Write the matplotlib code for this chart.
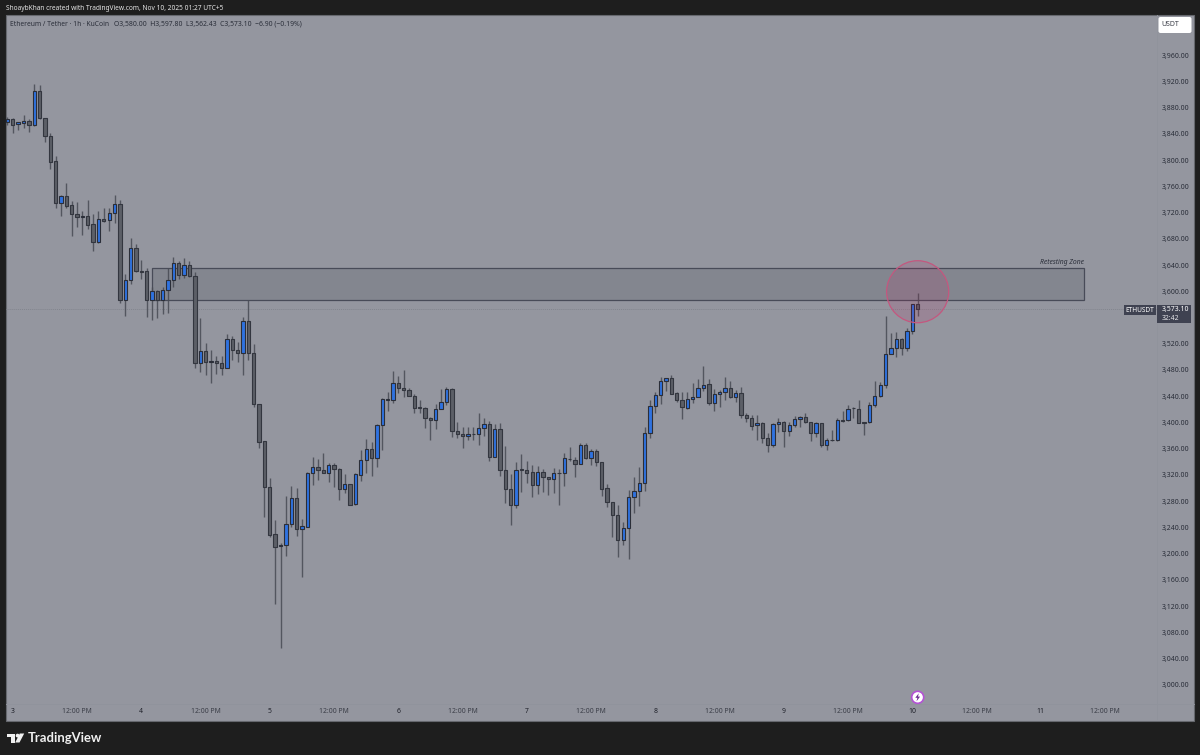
import numpy as np
import matplotlib
matplotlib.use("Agg")
import matplotlib.pyplot as plt
from matplotlib.patches import Rectangle, Ellipse, Circle, FancyBboxPatch, Polygon

plt.rcParams["font.family"] = ["Noto Sans", "DejaVu Sans"]

# ETHUSDT 1h candles, prices (first candle is the hour before Nov 3 00:00)
opens = [
    3858, 3862.4, 3854.3, 3856.9, 3860, 3852.8, 3905.6, 3863.5, 3836, 3797.9,
    3735, 3745.6, 3730.9, 3717.2, 3713.1, 3715.1, 3702, 3674.5, 3710.6, 3708,
    3718.7, 3733, 3587.2, 3617.6, 3665.4, 3630.8, 3630.3, 3586.1, 3600.4, 3587.2,
    3601.9, 3617.1, 3643, 3624.7, 3640, 3623.7, 3491.2, 3509.5, 3492.2, 3493.2,
    3490.2, 3483.6, 3527.8, 3510, 3505.9, 3554.2, 3505.9, 3427.7, 3371.4, 3302.3,
    3229.6, 3211.4, 3213.4, 3245.9, 3284.5, 3238.3, 3241.3, 3323.1, 3332.8, 3327.2,
    3323.6, 3335.3, 3329.2, 3299.2, 3305.8, 3275.9, 3320.6, 3343.4, 3359.2, 3346.4,
    3396.2, 3434.9, 3434.3, 3460.2, 3453.1, 3450.1, 3440.9, 3423.2, 3422.6, 3406.4,
    3403.9, 3420.1, 3431.3, 3451.6, 3386.6, 3383, 3379, 3383, 3382, 3392.2,
    3397.3, 3348, 3389.6, 3327.2, 3299.2, 3274.8, 3328.7, 3327.2, 3324.1, 3304.8,
    3324.1, 3317, 3313.4, 3323.6, 3323.1, 3344.9, 3343.4, 3337.3, 3365.2, 3345.4,
    3356.1, 3339.8, 3299.7, 3278.4, 3258.6, 3220.5, 3239.3, 3287, 3295.7, 3307.3,
    3384.5, 3424.7, 3441.9, 3463.8, 3467.3, 3444.5, 3433.8, 3422.6, 3435.3, 3439.4,
    3452.6, 3458.2, 3429.8, 3443.5, 3446.5, 3452.6, 3438.4, 3444.5, 3411.5, 3407.4,
    3395.7, 3398.8, 3375.9, 3366.3, 3397.3, 3400.8, 3387.6, 3396.8, 3404.9, 3408,
    3400.3, 3383.6, 3399.3, 3366.3, 3373.9, 3372.9, 3403.9, 3403.4, 3422.2, 3420.1,
    3400.3, 3400.3, 3426.2, 3440.4, 3456.7, 3504.9, 3514.1, 3526.8, 3513.1, 3540,
    3580,
]
closes = [
    3862, 3854, 3857.4, 3859.9, 3852.8, 3905.6, 3863.5, 3836, 3797.4, 3735,
    3745.6, 3730.4, 3717.2, 3712.6, 3714.6, 3701.4, 3674.5, 3710, 3707.5, 3718.7,
    3733, 3587.2, 3617.6, 3665.4, 3630.3, 3629.8, 3586.1, 3599.9, 3587.2, 3601.9,
    3617.1, 3643, 3624.7, 3640, 3623.7, 3491.2, 3509.5, 3492.2, 3493.2, 3490.2,
    3483.6, 3527.8, 3510, 3505.9, 3554.2, 3505.9, 3427.7, 3370.8, 3302.3, 3228.6,
    3210.9, 3212.9, 3245.4, 3284.5, 3238.3, 3241.8, 3323.6, 3332.8, 3327.2, 3323.6,
    3335.3, 3329.2, 3299.2, 3306.3, 3274.8, 3321.1, 3343.4, 3359.2, 3346.4, 3396.7,
    3436.4, 3435.9, 3460.2, 3453.1, 3450.1, 3440.9, 3422.6, 3422.2, 3406.4, 3403.4,
    3420.1, 3430.8, 3451.6, 3386.6, 3383, 3379, 3383, 3382, 3392.2, 3397.3,
    3348, 3389.6, 3327.2, 3299.2, 3274.8, 3328.2, 3328.2, 3323.6, 3304.8, 3324.1,
    3317.5, 3313.4, 3323.1, 3322.6, 3345.4, 3343.9, 3337.3, 3365.2, 3345.9, 3356.1,
    3340.4, 3299.2, 3278.4, 3258.6, 3220.5, 3239.3, 3286.5, 3295.7, 3307.3, 3384.5,
    3425.2, 3441.9, 3463.8, 3467.3, 3444, 3433.8, 3423.1, 3435.3, 3439.4, 3452.6,
    3457.7, 3429.8, 3444, 3446.5, 3452.6, 3438.4, 3444.5, 3411.5, 3407.4, 3395.2,
    3398.8, 3375.9, 3366.3, 3397.8, 3401.3, 3387.6, 3396.8, 3404.9, 3408, 3400.3,
    3383.6, 3399.3, 3365.8, 3373.9, 3372.9, 3403.4, 3402.9, 3421.1, 3421.6, 3399.8,
    3399.8, 3426.2, 3440.4, 3456.7, 3504.9, 3513.6, 3526.8, 3514.1, 3540, 3580,
    3573.1,
]
highs = [
    3866, 3864.5, 3858.4, 3868.5, 3862, 3915.8, 3914.2, 3864, 3841.6, 3806,
    3746.6, 3764.4, 3738, 3736, 3722.3, 3739, 3717.7, 3722.3, 3727.3, 3727.3,
    3747.1, 3739, 3626.3, 3680.6, 3672, 3647.6, 3636, 3607, 3601.9, 3606,
    3634.9, 3652.7, 3646, 3650.1, 3646.6, 3629.8, 3558.8, 3520.7, 3510.5, 3501.4,
    3501.4, 3534.4, 3531.8, 3522.2, 3561.3, 3586.7, 3519.7, 3428, 3371.8, 3315.5,
    3251.5, 3217, 3288, 3303.3, 3299.7, 3253.5, 3324, 3348, 3344.4, 3353,
    3337.8, 3338.8, 3330.2, 3321.6, 3306.3, 3322.6, 3358.1, 3374.4, 3370.3, 3397.2,
    3437.9, 3446, 3478.5, 3470.9, 3480, 3452.1, 3443, 3434.3, 3423.2, 3407.9,
    3428.2, 3450.6, 3454.6, 3452.1, 3401.3, 3393.7, 3392.7, 3393.7, 3414, 3406.4,
    3402.8, 3397.8, 3398.8, 3364.2, 3321, 3339.9, 3351.5, 3341.9, 3334.8, 3333.8,
    3328.7, 3317.5, 3330.7, 3329.7, 3354.1, 3363.2, 3347, 3368.3, 3368.3, 3359.2,
    3359.2, 3340.4, 3305.8, 3278.9, 3274.3, 3247.9, 3297.2, 3316.5, 3332.7, 3393.7,
    3434.3, 3447, 3469.9, 3468.3, 3471.9, 3447, 3446.5, 3446, 3459.7, 3465.8,
    3486.2, 3465.8, 3450.6, 3449.6, 3469.9, 3463.8, 3449.6, 3454.7, 3414, 3411,
    3411.5, 3400.3, 3383.6, 3398.8, 3406.4, 3402.3, 3401.3, 3410, 3410, 3414,
    3401.3, 3401.3, 3399.8, 3376.4, 3388.1, 3406.4, 3417.6, 3426.2, 3424.2, 3433.8,
    3400.3, 3430.8, 3462.8, 3461.8, 3562.3, 3535.9, 3537.4, 3528.3, 3543.6, 3580,
    3597.8,
]
lows = [
    3853, 3841.6, 3845.7, 3848.7, 3843.1, 3851.8, 3862.5, 3828, 3786.2, 3726.3,
    3714.6, 3727.3, 3684.2, 3697.4, 3686.2, 3694.8, 3661.8, 3673, 3706, 3692.3,
    3704.5, 3581.6, 3562.8, 3610.5, 3630, 3618.6, 3560.8, 3556.2, 3559.2, 3564.8,
    3567.3, 3606, 3618.6, 3620.2, 3621.2, 3483.6, 3477.5, 3472.4, 3459.7, 3473.9,
    3472.4, 3483, 3495.3, 3492.2, 3472.4, 3495.3, 3424.2, 3360.7, 3255.6, 3225.1,
    3123, 3055.9, 3197.1, 3241.3, 3227.6, 3165.1, 3241, 3304.3, 3312.4, 3323,
    3309.9, 3302.3, 3282, 3293.1, 3273.8, 3274.8, 3311.4, 3323.6, 3318.5, 3332.8,
    3358.1, 3417.6, 3429.2, 3444.5, 3439.4, 3440.4, 3415, 3415, 3391.7, 3373.4,
    3390.6, 3420, 3426.7, 3378.5, 3376.4, 3361.7, 3373.4, 3373.4, 3366.3, 3379.5,
    3341.4, 3347, 3318.5, 3276.9, 3244.4, 3269.8, 3294.1, 3308.4, 3287, 3291.1,
    3294.1, 3289.6, 3293.1, 3274.3, 3303.8, 3341.9, 3317.5, 3336.8, 3344.9, 3335.3,
    3333.8, 3288.5, 3271.8, 3225.1, 3195.6, 3212.9, 3192.5, 3261.6, 3273.3, 3296.2,
    3376.4, 3414, 3428.2, 3448.5, 3443, 3431.8, 3404.9, 3421.1, 3430.3, 3439,
    3448.6, 3426.7, 3417.1, 3423.2, 3434.3, 3436.9, 3431.3, 3406.4, 3401.3, 3388.6,
    3372.9, 3369.3, 3355.1, 3362.2, 3385.1, 3362.2, 3379.5, 3393.7, 3393.7, 3399.8,
    3371.4, 3378.5, 3363.2, 3358.2, 3372.4, 3372.4, 3400.8, 3402.9, 3407.4, 3399.3,
    3381, 3399.8, 3424.2, 3439.4, 3453.1, 3503.9, 3500.4, 3503.4, 3509.5, 3534.9,
    3562.43,
]

# 3,560 sits under the last price label, so the scale does not show it
price_ticks = [p for p in range(3000, 4000, 40) if p != 3560]
time_ticks = [0, 12, 24, 36, 48, 60, 72, 84, 96, 108, 120, 132, 144, 156, 168, 180, 192, 204]
time_labels = ["3", "12:00 PM", "4", "12:00 PM", "5", "12:00 PM", "6", "12:00 PM", "7", "12:00 PM",
               "8", "12:00 PM", "9", "12:00 PM", "10", "12:00 PM", "11", "12:00 PM"]

zone_low, zone_high = 3586.2, 3635.0
zone_start, zone_end = 26, 200
last_price = 3573.10

BG = "#1e1e1e"
PANEL = "#94969f"
TEXT = "#2a2e39"
LABEL_BG = "#3f4251"

W, H = 1200, 755
fig = plt.figure(figsize=(W / 100, H / 100), dpi=100, facecolor=BG)

# pixel-space layer under the chart: panel and axis separators
back = fig.add_axes([0, 0, 1, 1], zorder=0)
back.set_xlim(0, W)
back.set_ylim(H, 0)
back.axis("off")
back.add_patch(Rectangle((6, 15), 1188, 705.5, fc=PANEL, ec="#66686e", lw=0.8))
back.plot([1157, 1157], [15, 720], color="#90939c", lw=0.7)
back.plot([6, 1194], [704, 704], color="#90939c", lw=0.7)

# main chart axes, right edge at the price scale and bottom at the time scale
ax = fig.add_axes([6 / W, 1 - 704 / H, 1151 / W, 689 / H], zorder=1)
ax.patch.set_visible(False)
ax.set_xlim(-1.27, 213.7)
ax.set_ylim(2971.0, 4021.0)
for s in ax.spines.values():
    s.set_visible(False)

hours = np.arange(-1, 170)
o = np.array(opens)
c = np.array(closes)
up = c >= o
bottoms = np.minimum(o, c)
heights = np.abs(c - o)

ax.vlines(hours, lows, highs, color="#484b54", lw=1.0, alpha=0.85, zorder=3)
ax.bar(hours[up], heights[up], bottom=bottoms[up], width=0.62, color="#2f72e0",
       edgecolor="#2b2e38", linewidth=0.8, zorder=4)
ax.bar(hours[~up], heights[~up], bottom=bottoms[~up], width=0.62, color="#5c5f67",
       edgecolor="#33363f", linewidth=0.8, zorder=4)

# retesting zone and last price line
ax.add_patch(Rectangle((zone_start, zone_low), zone_end - zone_start, zone_high - zone_low,
                       fc="#434651", alpha=0.2, ec="none", zorder=2))
ax.add_patch(Rectangle((zone_start, zone_low), zone_end - zone_start, zone_high - zone_low,
                       fc="none", ec="#484b58", lw=0.9, zorder=2))
ax.text(zone_end, zone_high + 3, "Retesting Zone", ha="right", va="bottom",
        fontsize=4.9, style="italic", color=TEXT)
ax.axhline(last_price, color="#82858e", lw=0.7, ls=(0, (1, 1)), zorder=1)

# marker circle around the last candle
ax.add_patch(Ellipse((169, 3599.3), 11.6, 94.5, fc="#c2185b", alpha=0.13, ec="none", zorder=5))
ax.add_patch(Ellipse((169, 3599.3), 11.6, 94.5, fc="none", ec="#c4577f", lw=0.9, zorder=5))

ax.yaxis.tick_right()
ax.set_yticks(price_ticks)
ax.set_yticklabels([f"{p:,.2f}" for p in price_ticks], fontsize=5.0, color=TEXT)
ax.set_xticks(time_ticks)
ax.set_xticklabels(time_labels, fontsize=4.9, color="#3a3d47")
ax.tick_params(axis="both", length=0)
ax.tick_params(axis="y", pad=3.6)
ax.tick_params(axis="x", pad=2.6)
for lab, txt in zip(ax.get_xticklabels(), time_labels):
    if len(txt) <= 2:
        lab.set_color("#1e2029")
    if txt == "10":
        lab.set_fontweight("bold")

# pixel-space layer on top: header, last price labels, icon and logo
top = fig.add_axes([0, 0, 1, 1], zorder=2)
top.patch.set_visible(False)
top.set_xlim(0, W)
top.set_ylim(H, 0)
top.axis("off")

top.text(6, 8, "ShoaybKhan created with TradingView.com, Nov 10, 2025 01:27 UTC+5",
         fontsize=4.75, color="#e6e6e6", va="center", fontweight="medium")
top.text(10, 24, "Ethereum / Tether · 1h · KuCoin", fontsize=4.85, color=TEXT, va="center")
top.text(114, 24, "O3,580.00  H3,597.80  L3,562.43  C3,573.10  −6.90 (−0.19%)",
         fontsize=4.9, color=TEXT, va="center")

top.add_patch(FancyBboxPatch((1159.5, 18), 31, 14, boxstyle="round,pad=1,rounding_size=2",
                             fc="white", ec="none"))
top.text(1170, 25, "USDT", fontsize=5, color="#3a3d47", ha="center", va="center")

top.add_patch(Rectangle((1123.5, 305), 32.5, 10, fc=LABEL_BG, ec="none"))
top.text(1139.7, 310, "ETHUSDT", fontsize=4.7, color="white", ha="center", va="center",
         fontweight="bold")
top.add_patch(Rectangle((1157, 305), 34, 18, fc=LABEL_BG, ec="none"))
top.text(1162, 309.5, "3,573.10", fontsize=5, color="white", va="center", fontweight="bold")
top.text(1162, 318.5, "32:42", fontsize=4.9, color="#e4e4e8", va="center")

top.add_patch(Circle((917.7, 697.3), 6, fc="white", ec="#b452d6", lw=1.2))
top.add_patch(Polygon([(918.8, 693.2), (915.3, 697.8), (917.4, 697.8), (916.5, 701.3),
                       (920.1, 696.6), (918.0, 696.6)], fc="#6a2c91", ec="none"))

# TradingView logo mark
top.add_patch(Polygon([(7.3, 733.5), (14.7, 733.5), (14.7, 742.5), (11, 742.5), (11, 737), (7.3, 737)],
                      fc="#f0f0f0", ec="none"))
top.add_patch(Circle((17.6, 735.6), 1.9, fc="#f0f0f0", ec="none"))
top.add_patch(Polygon([(19.8, 733.5), (24.2, 733.5), (19.5, 742.5), (15.2, 742.5)],
                      fc="#f0f0f0", ec="none"))
top.text(28, 738, "TradingView", fontsize=9.4, color="#f0f0f0", va="center", fontweight="bold",
         family=["Lato", "DejaVu Sans"])

fig.savefig("out.png", dpi=100, facecolor=BG)
